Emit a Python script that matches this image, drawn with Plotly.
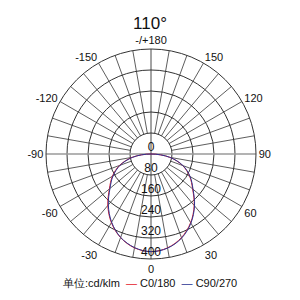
import plotly.graph_objects as go

# ---- data ----
title_text = "110°"
unit_label = "单位:cd/klm"
angles = [-90, -80, -70, -60, -50, -40, -30, -20, -10, 0, 10, 20, 30, 40, 50, 60, 70, 80, 90]
c0_180 = [0, 72, 128, 170, 207, 256, 302, 339, 363, 372, 363, 339, 302, 256, 207, 170, 128, 72, 0]
c90_270 = [0, 70, 125, 167, 204, 253, 300, 338, 362, 372, 364, 341, 304, 258, 209, 172, 130, 73, 0]
series_names = ["C0/180", "C90/270"]
series_colors = ["#e4202b", "#2b3592"]
radial_ticks = [0, 80, 160, 240, 320, 400]
angular_tickvals = [0, 30, 60, 90, 120, 150, 180, 210, 240, 270, 300, 330]
angular_ticktext = ["0", "30", "60", "90", "120", "150", "-/+180", "-150", "-120", "-90", "-60", "-30"]
spoke_angles = [a for a in range(0, 360, 10) if a % 90 != 0]
r_inner, r_outer = 80, 400

GRID = "#333333"
fig = go.Figure()

# spokes from inner circle to outer circle
sr, st = [], []
for a in spoke_angles:
    sr += [r_inner, r_outer, None]
    st += [a, a, None]
fig.add_trace(go.Scatterpolar(r=sr, theta=st, mode="lines",
                              line=dict(color=GRID, width=0.8), hoverinfo="skip", showlegend=False))
# horizontal axis line through centre (gray)
fig.add_trace(go.Scatterpolar(r=[r_outer, 0, r_outer], theta=[90, 90, 270], mode="lines",
                              line=dict(color="#9a9a9a", width=1.4), hoverinfo="skip", showlegend=False))
# vertical axis line through centre
fig.add_trace(go.Scatterpolar(r=[r_outer, 0, r_outer], theta=[0, 0, 180], mode="lines",
                              line=dict(color=GRID, width=0.9), hoverinfo="skip", showlegend=False))

for vals, name, col in zip([c0_180, c90_270], series_names, series_colors):
    fig.add_trace(go.Scatterpolar(r=vals, theta=angles, mode="lines", name=name,
                                  line=dict(color=col, width=1, shape="spline"), showlegend=False))

# radial value labels (sitting on their grid circles)
fig.add_trace(go.Scatterpolar(r=radial_ticks, theta=[0] * len(radial_ticks), mode="text",
                              text=[str(v) for v in radial_ticks], textposition="top center",
                              marker=dict(size=1),
                              textfont=dict(family="Liberation Sans, Arial", size=12, color="#111"),
                              hoverinfo="skip", showlegend=False))

legend_html = unit_label + "  " + "  ".join(
    f"<span style='color:{c}'>—</span> {n}" for n, c in zip(series_names, series_colors))

fig.update_layout(
    width=300, height=300,
    margin=dict(l=0, r=0, t=0, b=0),
    paper_bgcolor="white",
    showlegend=False,
    font=dict(family="Liberation Sans, Arial", color="#111"),
    title=dict(text=title_text, x=0.5, xanchor="center", y=0.922, yanchor="middle",
               font=dict(size=17, color="#111")),
    polar=dict(
        domain=dict(x=[46 / 300, 256 / 300], y=[1 - 259 / 300, 1 - 49 / 300]),
        bgcolor="white",
        radialaxis=dict(range=[0, r_outer], tickvals=radial_ticks[1:], showticklabels=False,
                        ticks="", showline=False, showgrid=True, gridcolor=GRID, gridwidth=0.8),
        angularaxis=dict(rotation=270, direction="counterclockwise",
                         tickvals=angular_tickvals, ticktext=angular_ticktext, ticks="",
                         showgrid=False, showline=True, linecolor=GRID, linewidth=1,
                         tickfont=dict(size=11, color="#111")),
    ),
    annotations=[dict(text=legend_html, x=0.5, y=1 - 283 / 300, xref="paper", yref="paper",
                      xanchor="center", yanchor="middle", showarrow=False,
                      font=dict(size=11, color="#111"))],
)

fig.write_html("out.html")
